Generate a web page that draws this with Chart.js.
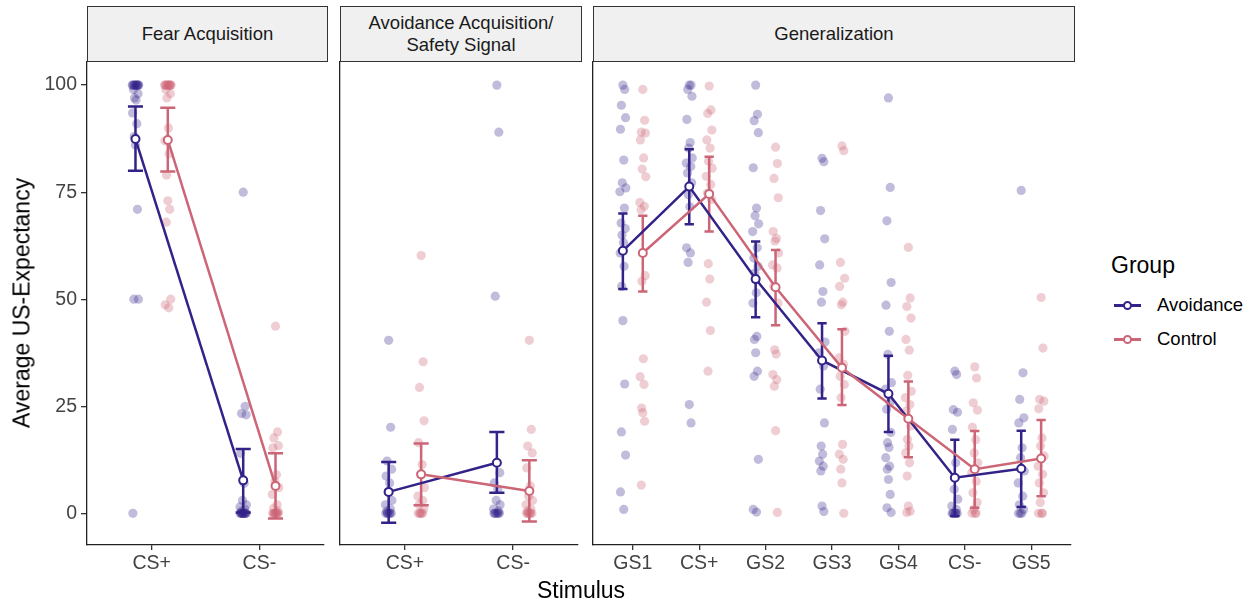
<!DOCTYPE html>
<html>
<head>
<meta charset="utf-8">
<script src="https://cdn.jsdelivr.net/npm/chart.js@4/dist/chart.umd.min.js"></script>
<style>
  body { margin: 0; background: #fff; }
  #wrap { position: relative; width: 1252px; height: 603px; background: #fff; font-family: "Liberation Sans", Arial, sans-serif; }
  canvas { position: absolute; top: 0; }
  .strip { position: absolute; top: 6px; height: 56px; box-sizing: border-box; background: #f0f0f0; border: 1.3px solid #333;
           display: flex; align-items: center; justify-content: center; text-align: center; font-size: 18.5px; line-height: 22px; color: #1a1a1a; }
  .title { position: absolute; font-size: 23px; color: #000; white-space: nowrap; }
  .key { position: absolute; left: 1114px; width: 27px; height: 2.5px; }
  .key span { position: absolute; left: 9px; top: -3.5px; width: 5px; height: 5px; border-radius: 50%; background: #fff; border: 2px solid; }
  .klabel { position: absolute; left: 1157px; font-size: 18.5px; color: #000; }
</style>
</head>
<body>
<div id="wrap">
  <canvas id="fearChart" width="330" height="603" style="left:0"></canvas>
  <canvas id="avoidChart" width="254" height="603" style="left:330px"></canvas>
  <canvas id="genChart" width="493" height="603" style="left:584px"></canvas>

  <div class="strip" style="left:87px;width:241px">Fear Acquisition</div>
  <div class="strip" style="left:340px;width:242px">Avoidance Acquisition/<br>Safety Signal</div>
  <div class="strip" style="left:593px;width:482px">Generalization</div>

  <div class="title" style="left:22px;top:303px;transform:translate(-50%,-50%) rotate(-90deg)">Average US-Expectancy</div>
  <div class="title" style="left:581px;top:590px;transform:translate(-50%,-50%)">Stimulus</div>

  <div class="title" style="left:1111px;top:252px">Group</div>
  <div class="key" style="top:304px;background:#332288"><span style="border-color:#332288"></span></div>
  <div class="klabel" style="top:294px">Avoidance</div>
  <div class="key" style="top:338px;background:#CC6677"><span style="border-color:#CC6677"></span></div>
  <div class="klabel" style="top:328px">Control</div>
</div>

<script>
/* ---------- data ---------- */
const yTicks = [0, 25, 50, 75, 100];

// Fear Acquisition
const fearCats = ["CS+", "CS-"];
const fearAvoidPts = [
  [100, 100, 100, 100, 100, 100, 100, 100, 100, 100, 99, 98, 97, 96.5, 93.5, 91, 88, 86, 71, 50, 50, 0],
  [75, 25, 23.3, 23, 14, 7, 3, 2, 1.5, 1, 0.5, 0, 0, 0, 0, 0, 0, 0, 0, 0, 0, 0]
];
const fearCtrlPts = [
  [100, 100, 100, 100, 100, 100, 100, 100, 100, 100, 99, 98, 97, 90, 87, 84, 79, 73, 71, 68, 50, 48.7, 48],
  [43.7, 19, 17.6, 15.8, 15.3, 9, 7.5, 6, 4.4, 2, 1.2, 0.5, 0, 0, 0, 0, 0, 0, 0, 0, 0]
];
const fearAvoidMean = [87.4, 7.7];
const fearAvoidLo = [80, 0.2];
const fearAvoidHi = [95, 15];
const fearCtrlMean = [87.2, 6.4];
const fearCtrlLo = [79.8, -1.2];
const fearCtrlHi = [94.7, 14];

// Avoidance Acquisition / Safety Signal
const avoidCats = ["CS+", "CS-"];
const avoidAvoidPts = [
  [40.4, 20.1, 12.2, 10.3, 8.7, 7.1, 5, 3, 2, 1, 0.5, 0, 0, 0, 0, 0, 0],
  [100, 89, 50.7, 9.5, 7.1, 5.6, 3, 2, 1, 0.5, 0, 0, 0, 0, 0, 0]
];
const avoidCtrlPts = [
  [60.2, 35.4, 29.4, 21.6, 16.5, 11.4, 9.1, 6, 4, 3, 2, 1, 0, 0, 0, 0, 0],
  [40.4, 19.6, 15.7, 14.1, 10.6, 6.4, 4, 3, 2, 1, 0.5, 0, 0, 0, 0, 0, 0]
];
const avoidAvoidMean = [5.0, 11.8];
const avoidAvoidLo = [-2.2, 4.8];
const avoidAvoidHi = [12, 19];
const avoidCtrlMean = [9.1, 5.2];
const avoidCtrlLo = [1.9, -1.9];
const avoidCtrlHi = [16.3, 12.4];

// Generalization
const genCats = ["GS1", "CS+", "GS2", "GS3", "GS4", "CS-", "GS5"];
const genAvoidPts = [
  [100, 99, 95.3, 92.4, 89.7, 82.5, 77.2, 76, 75.1, 71.3, 67.8, 66.5, 65, 63.2, 60.8, 57.7, 53, 45, 30.2, 19, 13.6, 5, 0.9],
  [100, 100, 99, 97.4, 92, 86.6, 85.3, 83, 81.8, 81, 79.5, 77.2, 74.4, 71.6, 62, 60.8, 58.6, 25.4, 21.1],
  [100, 93.2, 91.7, 88.9, 80.7, 71.3, 69.5, 67.6, 65.8, 62, 59.6, 57.7, 56.1, 51.5, 49.1, 41.3, 40.6, 37.5, 33.2, 32, 12.6, 0.9, 0.3],
  [82.9, 82.1, 70.7, 64.1, 58, 51.8, 49.3, 40, 37.5, 34.4, 29, 21.1, 15.7, 13.8, 12.2, 11, 9.9, 1.7, 0.4],
  [97, 76.1, 68.3, 53.9, 48.6, 42.5, 37.1, 30.5, 29, 25.9, 24.3, 18.9, 16.5, 15.4, 13, 11, 10.3, 7.9, 4.4, 1.3, 0.2],
  [33.2, 32.4, 24.2, 23.6, 19.6, 11.8, 5.6, 3.3, 1.7, 0.9, 0, 0, 0, 0, 0, 0],
  [75.4, 32.8, 26.6, 22.3, 21.1, 15.3, 13, 9.9, 7.1, 4, 2, 0.9, 0, 0, 0]
];
const genCtrlPts = [
  [99, 91.8, 89, 88.8, 87.2, 83, 80.4, 78.6, 72.6, 71.7, 70.9, 55.5, 54.2, 36.1, 31.9, 30.1, 24.6, 23.5, 21.5, 6.6],
  [99.8, 94.2, 93.4, 89.5, 87.2, 85.3, 82.2, 80.6, 78.7, 76.8, 74.8, 73.3, 58.3, 54.7, 49.3, 42.7, 33.2],
  [85.5, 81.7, 78.2, 73.7, 65.8, 64.2, 63.6, 60.8, 58, 57.3, 53, 49.1, 38.2, 37.2, 32.4, 31.2, 29.7, 19.3, 0.2],
  [85.8, 84.7, 58.6, 54.9, 53, 49.3, 48.7, 42.5, 36.3, 34.8, 32, 30.1, 27, 16.1, 13.8, 12.6, 10.3, 7.1, 0],
  [62.1, 50.3, 48.3, 45.6, 40.6, 38.1, 32.2, 28.5, 27, 25.4, 23.9, 20.4, 17.3, 15.7, 14.1, 11.8, 8.7, 1.7, 0.5, 0.2],
  [34.2, 31.6, 25.8, 24.1, 20.1, 17.2, 14.1, 11.8, 9.5, 7.5, 4.8, 2.5, 0.9, 0, 0, 0],
  [50.4, 38.6, 26.6, 26.2, 24.4, 17.6, 15.7, 13.4, 11, 9.1, 7.1, 4.8, 2.5, 0, 0, 0]
];
const genAvoidMean = [61.3, 76.3, 54.7, 35.7, 27.9, 8.3, 10.4];
const genAvoidLo = [52.4, 67.5, 45.8, 26.8, 19, -0.6, 1.5];
const genAvoidHi = [70, 85, 63.5, 44.4, 36.8, 17.2, 19.3];
const genCtrlMean = [60.8, 74.6, 52.8, 34, 22.1, 10.3, 12.8];
const genCtrlLo = [51.8, 65.8, 43.9, 25.3, 13.1, 1.3, 4];
const genCtrlHi = [69.5, 83.3, 61.5, 43, 30.8, 19.2, 21.8];

/* ---------- styling ---------- */
const AVOID = "#332288";
const CTRL = "#CC6677";
const AVOID_PT = "rgba(51,34,136,0.3)";
const CTRL_PT = "rgba(204,102,119,0.32)";
const DODGE = 0.15;
const CAP = 0.07;
const jitterPattern = [0, 0.6, -0.5, 0.9, -0.8, 0.3, -0.2, 1, -1, 0.5, -0.6, 0.8, -0.3, 0.2, -0.9, 0.4, -0.4];
const tickFont = { family: "Liberation Sans", size: 19.5 };

function scatterData(groups, dodge, jit) {
  const out = [];
  groups.forEach((vals, i) => {
    vals.forEach((v, k) => out.push({ x: i + dodge + jitterPattern[k % jitterPattern.length] * jit, y: v }));
  });
  return out;
}

function meanData(means, dodge) {
  return means.map((m, i) => ({ x: i + dodge, y: m }));
}

function errorData(lo, hi, dodge) {
  const out = [];
  lo.forEach((l, i) => {
    const x = i + dodge;
    out.push({ x: x, y: l }, { x: x, y: hi[i] }, { x: x, y: null });
    out.push({ x: x - CAP, y: l }, { x: x + CAP, y: l }, { x: x, y: null });
    out.push({ x: x - CAP, y: hi[i] }, { x: x + CAP, y: hi[i] }, { x: x, y: null });
  });
  return out;
}

function makePanel(id, cats, g, showY, padLeft, jit) {
  const ctx = document.getElementById(id).getContext("2d");
  const lineDs = (data, color, order) => ({
    type: "line", data, order, borderColor: color, borderWidth: 2.5,
    pointRadius: 4, pointBackgroundColor: "#fff", pointBorderColor: color, pointBorderWidth: 2
  });
  const errDs = (data, color, order) => ({
    type: "line", data, order, borderColor: color, borderWidth: 2.5, pointRadius: 0, spanGaps: false
  });
  const ptDs = (data, color, order) => ({
    type: "scatter", data, order, backgroundColor: color, borderWidth: 0, pointRadius: 4.6
  });

  new Chart(ctx, {
    data: {
      datasets: [
        lineDs(meanData(g.ctrlMean, DODGE), CTRL, 0),
        lineDs(meanData(g.avoidMean, -DODGE), AVOID, 1),
        errDs(errorData(g.ctrlLo, g.ctrlHi, DODGE), CTRL, 2),
        errDs(errorData(g.avoidLo, g.avoidHi, -DODGE), AVOID, 3),
        ptDs(scatterData(g.ctrlPts, DODGE, jit), CTRL_PT, 4),
        ptDs(scatterData(g.avoidPts, -DODGE, jit), AVOID_PT, 5)
      ]
    },
    options: {
      responsive: false,
      animation: false,
      layout: { padding: { top: 62, left: padLeft, right: 2, bottom: 0 } },
      plugins: { legend: { display: false }, tooltip: { enabled: false } },
      scales: {
        x: {
          type: "linear",
          min: -0.6,
          max: cats.length - 0.4,
          afterBuildTicks: (s) => { s.ticks = cats.map((c, i) => ({ value: i })); },
          afterFit: (s) => { s.height = 58; },
          ticks: { callback: (v, i) => cats[i], autoSkip: false, maxRotation: 0, font: tickFont, color: "#444", padding: 2 },
          grid: { drawOnChartArea: false, drawTicks: true, tickLength: 5, color: "#333", lineWidth: 1.3 },
          border: { display: true, color: "#222", width: 1.3 }
        },
        y: {
          type: "linear",
          min: -7.4,
          max: 105.4,
          afterBuildTicks: (s) => { s.ticks = yTicks.map((v) => ({ value: v })); },
          afterFit: (s) => { s.width = showY ? 87 : 0; },
          ticks: { display: showY, font: tickFont, color: "#444", padding: 4 },
          grid: { display: showY, drawOnChartArea: false, drawTicks: true, tickLength: 6, color: "#333", lineWidth: 1.3 },
          border: { display: true, color: "#222", width: 1.3 }
        }
      }
    }
  });
}

makePanel("fearChart", fearCats, {
  avoidPts: fearAvoidPts, ctrlPts: fearCtrlPts,
  avoidMean: fearAvoidMean, avoidLo: fearAvoidLo, avoidHi: fearAvoidHi,
  ctrlMean: fearCtrlMean, ctrlLo: fearCtrlLo, ctrlHi: fearCtrlHi
}, true, 0, 0.03);

makePanel("avoidChart", avoidCats, {
  avoidPts: avoidAvoidPts, ctrlPts: avoidCtrlPts,
  avoidMean: avoidAvoidMean, avoidLo: avoidAvoidLo, avoidHi: avoidAvoidHi,
  ctrlMean: avoidCtrlMean, ctrlLo: avoidCtrlLo, ctrlHi: avoidCtrlHi
}, false, 10, 0.03);

makePanel("genChart", genCats, {
  avoidPts: genAvoidPts, ctrlPts: genCtrlPts,
  avoidMean: genAvoidMean, avoidLo: genAvoidLo, avoidHi: genAvoidHi,
  ctrlMean: genCtrlMean, ctrlLo: genCtrlLo, ctrlHi: genCtrlHi
}, false, 9, 0.045);
</script>
</body>
</html>
